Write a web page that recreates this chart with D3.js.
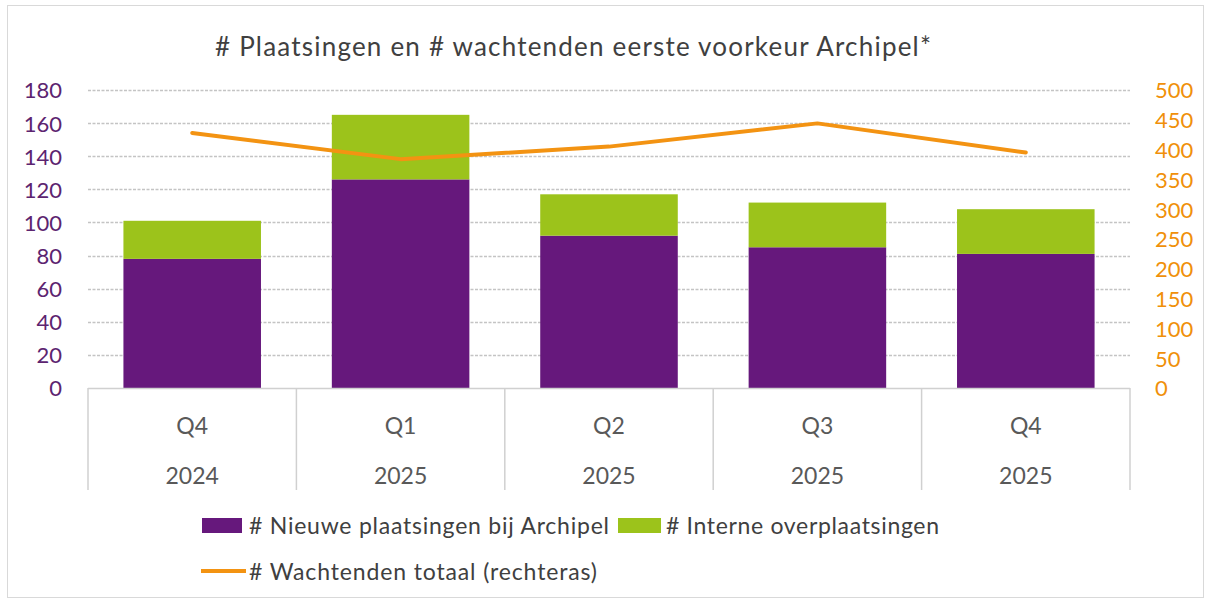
<!DOCTYPE html>
<html>
<head>
<meta charset="utf-8">
<script src="https://cdn.jsdelivr.net/npm/d3@7"></script>
<style>
  html, body { margin: 0; padding: 0; background: #ffffff; }
  svg { display: block; font-family: Lato, "Open Sans", sans-serif; }
</style>
</head>
<body>
<svg id="chart" width="1206" height="601"></svg>
<script>
// ---- data ----
const quarters = ["Q4", "Q1", "Q2", "Q3", "Q4"];
const years = ["2024", "2025", "2025", "2025", "2025"];
const nieuwePlaatsingen = [78, 126, 92, 85, 81];
const interneOverplaatsingen = [23, 39, 25, 27, 27];
const wachtendenTotaal = [428, 384, 405, 444, 395];
const leftTicks = [0, 20, 40, 60, 80, 100, 120, 140, 160, 180];
const rightTicks = [0, 50, 100, 150, 200, 250, 300, 350, 400, 450, 500];
const title = "# Plaatsingen en # wachtenden eerste voorkeur Archipel*";
const legendLabels = ["# Nieuwe plaatsingen bij Archipel", "# Interne overplaatsingen", "# Wachtenden totaal (rechteras)"];

// ---- layout ----
const purple = "#66187c", green = "#9cc31b", orange = "#f39312";
const svg = d3.select("#chart");
const plot = { left: 88, right: 1130, top: 90, bottom: 388 };

// spread text to a target width with letter-spacing
function fit(sel, target) {
  const n = sel.text().length;
  const w = sel.node().getComputedTextLength();
  sel.attr("letter-spacing", ((target - w) / (n - 1)).toFixed(3));
  return sel;
}

// outer border
svg.append("rect").attr("x", 7.5).attr("y", 5.5).attr("width", 1196).attr("height", 592)
  .attr("fill", "none").attr("stroke", "#d9d9d9").attr("stroke-width", 1);

const idx = d3.range(quarters.length);
const x = d3.scaleBand().domain(idx).range([plot.left, plot.right])
  .paddingInner(0.34).paddingOuter(0.17);
const yL = d3.scaleLinear().domain([0, 180]).range([plot.bottom, plot.top]);
const yR = d3.scaleLinear().domain([0, 500]).range([plot.bottom, plot.top]);

// gridlines
svg.append("g").selectAll("line").data(leftTicks.filter(d => d > 0)).join("line")
  .attr("x1", plot.left).attr("x2", plot.right)
  .attr("y1", d => Math.round(yL(d)) + 0.5).attr("y2", d => Math.round(yL(d)) + 0.5)
  .attr("stroke", "#c4c4c4").attr("stroke-width", 1.5).attr("stroke-dasharray", "3,1.5");

// bars
const gBars = svg.append("g");
gBars.selectAll("rect.n").data(idx).join("rect").attr("class", "n")
  .attr("x", i => x(i)).attr("width", x.bandwidth())
  .attr("y", i => yL(nieuwePlaatsingen[i]))
  .attr("height", i => yL(0) - yL(nieuwePlaatsingen[i]))
  .attr("fill", purple);
gBars.selectAll("rect.i").data(idx).join("rect").attr("class", "i")
  .attr("x", i => x(i)).attr("width", x.bandwidth())
  .attr("y", i => yL(nieuwePlaatsingen[i] + interneOverplaatsingen[i]))
  .attr("height", i => yL(nieuwePlaatsingen[i]) - yL(nieuwePlaatsingen[i] + interneOverplaatsingen[i]))
  .attr("fill", green);

// category axis (multi-level)
const gx = svg.append("g").attr("stroke", "#d0d0d0").attr("stroke-width", 1.5);
gx.append("line").attr("x1", plot.left).attr("x2", plot.right)
  .attr("y1", plot.bottom + 0.5).attr("y2", plot.bottom + 0.5);
const step = x.step();
const bounds = d3.range(quarters.length + 1).map(k => plot.left + k * step);
gx.selectAll("line.v").data(bounds).join("line").attr("class", "v")
  .attr("x1", d => d).attr("x2", d => d)
  .attr("y1", plot.bottom).attr("y2", 490);

svg.append("g").selectAll("text").data(idx).join("text")
  .attr("x", i => x(i) + x.bandwidth() / 2).attr("y", 425)
  .attr("text-anchor", "middle").attr("dominant-baseline", "central")
  .attr("font-size", 23).attr("fill", "#595959").text(i => quarters[i]);
svg.append("g").selectAll("text").data(idx).join("text")
  .attr("x", i => x(i) + x.bandwidth() / 2).attr("y", 475)
  .attr("text-anchor", "middle").attr("dominant-baseline", "central")
  .attr("font-size", 23).attr("fill", "#595959").text(i => years[i]);

// left axis
const axL = svg.append("g").attr("transform", `translate(${plot.left - 26},0)`)
  .call(d3.axisLeft(yL).tickValues(leftTicks).tickSize(0).tickPadding(0));
axL.select(".domain").remove();
axL.selectAll("text").attr("font-size", 22).attr("fill", "#5c2470")
  .attr("font-family", "Lato, sans-serif").attr("dy", "0.36em");

// right axis
const axR = svg.append("g").attr("transform", `translate(${plot.right + 25},0)`)
  .call(d3.axisRight(yR).tickValues(rightTicks).tickSize(0).tickPadding(0));
axR.select(".domain").remove();
axR.selectAll("text").attr("font-size", 22).attr("fill", "#f0900a")
  .attr("font-family", "Lato, sans-serif").attr("dy", "0.36em");

// line
const line = d3.line().x(i => x(i) + x.bandwidth() / 2).y(i => yR(wachtendenTotaal[i]));
svg.append("path").datum(idx).attr("d", line)
  .attr("fill", "none").attr("stroke", orange).attr("stroke-width", 4)
  .attr("stroke-linejoin", "round").attr("stroke-linecap", "round");

// title
const tt = svg.append("text").attr("x", 215).attr("y", 46)
  .attr("dominant-baseline", "central")
  .attr("font-size", 26).attr("fill", "#404040").text(title);
fit(tt, 716);

// legend
const lg = svg.append("g").attr("font-size", 23).attr("fill", "#404040");
lg.append("rect").attr("x", 202).attr("y", 518).attr("width", 40).attr("height", 15).attr("fill", purple);
const t1 = lg.append("text").attr("x", 249).attr("y", 525).attr("dominant-baseline", "central").text(legendLabels[0]);
fit(t1, 360);
lg.append("rect").attr("x", 618).attr("y", 518).attr("width", 43).attr("height", 15).attr("fill", green);
const t2 = lg.append("text").attr("x", 666).attr("y", 525).attr("dominant-baseline", "central").text(legendLabels[1]);
fit(t2, 273);
lg.append("line").attr("x1", 201).attr("x2", 246).attr("y1", 571).attr("y2", 571)
  .attr("stroke", orange).attr("stroke-width", 4);
const t3 = lg.append("text").attr("x", 249).attr("y", 571).attr("dominant-baseline", "central").text(legendLabels[2]);
fit(t3, 348);
</script>
</body>
</html>
